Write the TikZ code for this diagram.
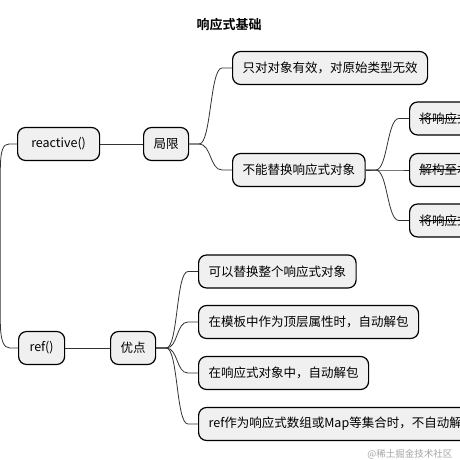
\documentclass[tikz,border=0pt]{standalone}
\usepackage{fontspec}
\setmainfont{Noto Sans CJK SC}[BoldFont={Noto Sans CJK SC Bold}]
\begin{document}
\begin{tikzpicture}[x=1pt,y=-1pt,
  box/.style={draw=black, line width=1.2pt, fill=black!6, rounded corners=8pt,
    minimum height=33pt, inner xsep=10pt, inner ysep=0pt, font=\fontsize{12.5}{14}\selectfont, anchor=west},
  conn/.style={draw=black!80, line width=0.8pt},
  strike/.style={draw=black, line width=0.9pt},
  ttl/.style={font=\bfseries\fontsize{13}{15}\selectfont},
  wm/.style={font=\fontsize{9.5}{11}\selectfont, text=black!35, anchor=east}]
\useasboundingbox (0,0) rectangle (460,460);
\clip (0,0) rectangle (460,460);
\fill[white] (0,0) rectangle (460,460);
\node[ttl] (title) at (229,25) {响应式基础};
% level 1
\node[box, minimum width=82pt] (reactive) at (17,144) {reactive()};
\node[box, minimum width=46pt] (ref) at (18,348) {ref()};
\coordinate (root) at (0.3,246);
% level 2
\node[box] (limit) at (143,144) {局限};
\node[box] (adv) at (110,348) {优点};
% level 3
\node[box] (l1) at (232,68) {只对对象有效，对原始类型无效};
\node[box] (l2) at (232,170) {不能替换响应式对象};
\node[box] (a1) at (198,271.5) {可以替换整个响应式对象};
\node[box] (a2) at (198,322) {在模板中作为顶层属性时，自动解包};
\node[box] (a3) at (198,373) {在响应式对象中，自动解包};
\node[box] (a4) at (198,424) {ref作为响应式数组或Map等集合时，不自动解包};
% level 4
\node[box] (s1) at (409,118.5) {将响应式对象的属性赋值给本地变量};
\node[box] (s2) at (409,170) {解构至本地变量};
\node[box] (s3) at (409,220.5) {将响应式对象的属性传入函数};
\foreach \s in {s1,s2,s3}{
  \draw[strike] ([xshift=10pt,yshift=0.5pt]\s.west) -- ([xshift=-10pt,yshift=0.5pt]\s.east);
}
% connectors
\draw[conn] (reactive.west) -- ++(-8,0) .. controls +(-6,0) and (0.3,150) .. (0.3,172) -- (root);
\draw[conn] (ref.west) -- ++(-8,0) .. controls +(-6,0) and (0.3,342) .. (0.3,320) -- (root);
\draw[conn] (reactive.east) -- (limit.west);
\draw[conn] (ref.east) -- (adv.west);
\foreach \c in {l1,l2}{
  \draw[conn] (limit.east) -- ++(10,0) .. controls +(12,0) and +(-12,0) .. ([xshift=-10pt]\c.west) -- (\c.west);
}
\foreach \c in {a1,a2,a3,a4}{
  \draw[conn] (adv.east) -- ++(10,0) .. controls +(12,0) and +(-12,0) .. ([xshift=-10pt]\c.west) -- (\c.west);
}
\foreach \c in {s1,s2,s3}{
  \draw[conn] (l2.east) -- ++(10,0) .. controls +(12,0) and +(-12,0) .. ([xshift=-10pt]\c.west) -- (\c.west);
}
\node[wm] (mark) at (456,454) {@稀土掘金技术社区};
\end{tikzpicture}
\end{document}
